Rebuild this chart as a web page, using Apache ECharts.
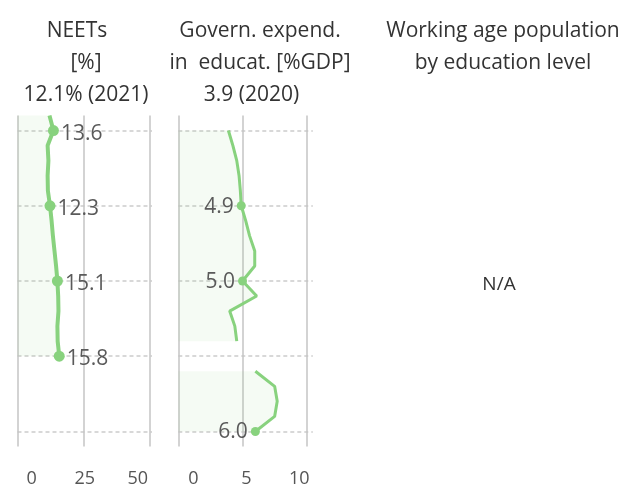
<!DOCTYPE html>
<html><head><meta charset="utf-8">
<script src="https://cdn.jsdelivr.net/npm/echarts@6/dist/echarts.min.js"></script>
<style>html,body{margin:0;padding:0;background:#fff}#c{width:629px;height:495px}</style>
</head><body><div id="c"></div>
<script>
// Years on the vertical axis (bottom to top)
const years = ['1999','2000','2001','2002','2003','2004','2005','2006','2007','2008','2009','2010',
               '2011','2012','2013','2014','2015','2016','2017','2018','2019','2020','2021'];
// NEETs [%]
const neetValues = [null,null,null,null,null,null,15.8,15.2,15.1,15.5,15.4,15.1,
                    14.6,14.0,13.4,12.9,12.3,11.5,11.4,11.7,11.4,13.6,12.1];
const neetLabelled = ['2005','2010','2015','2020'];
// Government expenditure in education [%GDP]
const gdpValues = [null,6.0,7.5,7.7,7.5,6.0,null,4.55,4.4,4.0,6.1,5.0,
                   5.95,5.95,5.55,5.25,4.9,4.83,4.73,4.55,4.25,3.9,null];
const gdpLabelled = ['2000','2010','2015'];
// Tick labels
const neetTicks = [0, 25, 50];
const gdpTicks = [0, 5, 10];
// Header lines of each panel
const neetTitle = ['NEETs', '[%]', '12.1% (2021)'];
const gdpTitle = ['Govern. expend.', 'in  educat. [%GDP]', '3.9 (2020)'];
const wapTitle = ['Working age population', 'by education level'];
const naText = 'N/A';

const FONT = 'Open Sans';
const GREEN = '#88d27e';
const TOP = 115.5, BOTTOM = 495 - 446.5;

function build(values, labelled, size) {
  return values.map((v, i) => labelled.includes(years[i])
    ? { value: v, symbol: 'circle', symbolSize: size, label: { show: true } }
    : v);
}
function headerLines(lines, centers) {
  return lines.map((t, i) => ({
    text: t, left: centers[i], top: 15 + i * 32, textAlign: 'center', padding: 0,
    textStyle: { fontFamily: FONT, fontSize: 21, fontWeight: 'normal', color: '#333', lineHeight: 32 }
  }));
}
function mainX(gi, max, interval) {
  return {
    type: 'value', gridIndex: gi, min: 0, max: max, interval: interval,
    axisLine: { show: false }, axisTick: { show: false }, axisLabel: { show: false },
    splitLine: { show: true, showMinLine: true, showMaxLine: false, lineStyle: { color: '#c4c4c4', width: 1.5 } }
  };
}
function mainY(gi) {
  return {
    type: 'category', gridIndex: gi, data: years, boundaryGap: false,
    axisLine: { show: false }, axisTick: { show: false }, axisLabel: { show: false },
    splitLine: { show: true, interval: (idx, val) => Number(val) % 5 === 0,
      lineStyle: { color: '#cccccc', width: 1.5, type: [4, 3] } }
  };
}
function labelX(gi, ticks) {
  return {
    type: 'value', gridIndex: gi, min: ticks[0], max: ticks[ticks.length - 1], interval: ticks[1] - ticks[0],
    axisLine: { show: false }, axisTick: { show: false }, splitLine: { show: false },
    axisLabel: { show: true, margin: 23, color: '#555', fontSize: 18, fontFamily: FONT, showMinLabel: true, showMaxLabel: true }
  };
}
function hiddenY(gi) { return { type: 'value', gridIndex: gi, show: false, min: 0, max: 1 }; }

const chart = echarts.init(document.getElementById('c'), null, { renderer: 'canvas' });
chart.setOption({
  animation: false,
  backgroundColor: '#fff',
  title: [].concat(
    headerLines(neetTitle, [77, 86, 86]),
    headerLines(gdpTitle, [260, 260, 251.5]),
    headerLines(wapTitle, [503, 503]),
    [{ text: naText, left: 499, top: 275, textAlign: 'center', padding: 0,
       textStyle: { fontFamily: FONT, fontSize: 19, fontWeight: 'normal', color: '#333' } }]
  ),
  grid: [
    { left: 17.5, width: 134.5, top: TOP, bottom: BOTTOM, containLabel: false },
    { left: 178.3, width: 134.5, top: TOP, bottom: BOTTOM, containLabel: false },
    { left: 31.7, width: 106, top: TOP, bottom: BOTTOM, containLabel: false },
    { left: 193.3, width: 106, top: TOP, bottom: BOTTOM, containLabel: false }
  ],
  xAxis: [ mainX(0, 50.9, 25), mainX(1, 10.47, 5), labelX(2, neetTicks), labelX(3, gdpTicks) ],
  yAxis: [ mainY(0), mainY(1), hiddenY(2), hiddenY(3) ],
  series: [
    { type: 'line', xAxisIndex: 0, yAxisIndex: 0, data: build(neetValues, neetLabelled, 11),
      symbol: 'none', showAllSymbol: true, connectNulls: false,
      lineStyle: { color: GREEN, width: 4 }, itemStyle: { color: GREEN },
      areaStyle: { color: 'rgba(136,210,126,0.12)' },
      label: { position: 'right', distance: 2, offset: [0, 3], fontFamily: FONT, fontSize: 21, color: '#5a5a5a',
               formatter: p => Number(p.value).toFixed(1) } },
    { type: 'line', xAxisIndex: 1, yAxisIndex: 1, data: build(gdpValues, gdpLabelled, 9),
      symbol: 'none', showAllSymbol: true, connectNulls: false,
      lineStyle: { color: GREEN, width: 3 }, itemStyle: { color: GREEN },
      areaStyle: { color: 'rgba(136,210,126,0.12)' },
      label: { position: 'left', distance: 3, offset: [0, 1], fontFamily: FONT, fontSize: 21, color: '#5a5a5a',
               formatter: p => Number(p.value).toFixed(1) } }
  ]
});
</script></body></html>
